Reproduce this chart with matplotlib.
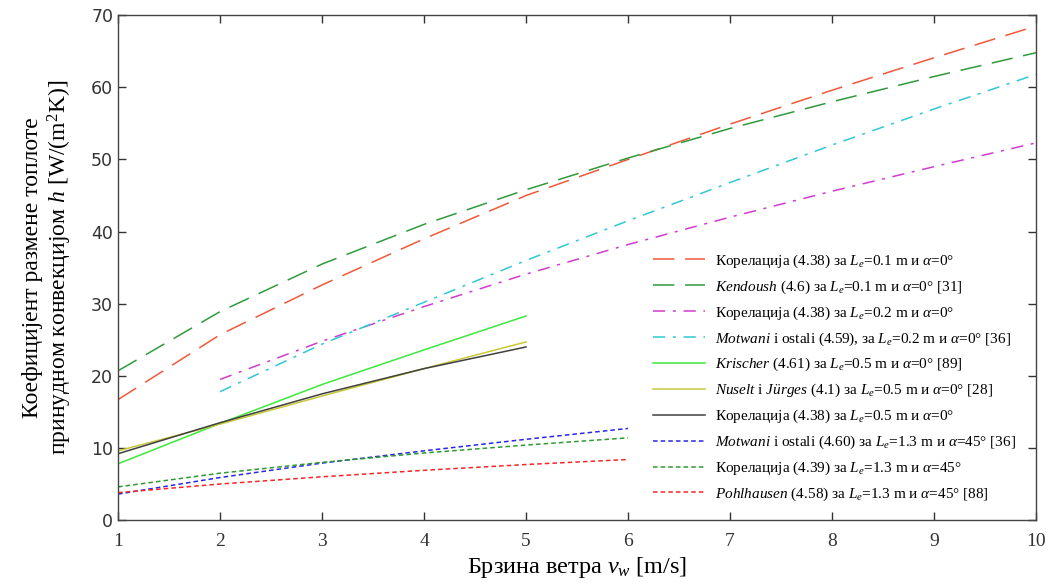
import matplotlib
matplotlib.use("Agg")
import matplotlib.pyplot as plt
import numpy as np

plt.rcParams['font.family'] = ['Liberation Serif', 'DejaVu Serif']
plt.rcParams['mathtext.fontset'] = 'custom'
plt.rcParams['mathtext.rm'] = 'Liberation Serif'
plt.rcParams['mathtext.it'] = 'Liberation Serif:italic'
plt.rcParams['mathtext.bf'] = 'Liberation Serif:bold'

# ---- data ----
x_full = [1, 2, 3, 4, 5, 6, 7, 8, 9, 10]
x_from2 = [2, 3, 4, 5, 6, 7, 8, 9, 10]
x_to5 = [1, 2, 3, 4, 5]
x_to6 = [1, 2, 3, 4, 5, 6]

kor_01 = [16.7, 25.7, 32.6, 39.0, 45.0, 50.0, 54.9, 59.6, 64.1, 68.5]
kendoush = [20.7, 28.9, 35.5, 41.0, 45.8, 50.2, 54.3, 58.0, 61.5, 64.8]
kor_02 = [19.5, 24.8, 29.6, 34.1, 38.2, 42.0, 45.6, 49.0, 52.3]
motwani_459 = [17.8, 24.4, 30.2, 36.0, 41.5, 46.8, 52.0, 57.0, 61.8]
krischer = [7.8, 13.4, 18.8, 23.6, 28.3]
nuselt = [9.6, 13.3, 17.2, 21.0, 24.7]
kor_05 = [9.2, 13.5, 17.5, 21.0, 24.0]
motwani_460 = [3.6, 5.9, 7.9, 9.6, 11.2, 12.7]
kor_439 = [4.6, 6.5, 8.0, 9.3, 10.4, 11.4]
pohlhausen = [3.8, 5.0, 6.0, 6.9, 7.7, 8.4]

labels = [
    r'Корелација (4.38) за $\mathit{L_e}$=0.1 m и $\mathit{\alpha}$=0°',
    r'$\mathit{Kendoush}$ (4.6) за $\mathit{L_e}$=0.1 m и $\mathit{\alpha}$=0° [31]',
    r'Корелација (4.38) за $\mathit{L_e}$=0.2 m и $\mathit{\alpha}$=0°',
    r'$\mathit{Motwani}$ i ostali (4.59), за $\mathit{L_e}$=0.2 m и $\mathit{\alpha}$=0° [36]',
    r'$\mathit{Krischer}$ (4.61) за $\mathit{L_e}$=0.5 m и $\mathit{\alpha}$=0° [89]',
    r'$\mathit{Nuselt}$ i $\mathit{Jürges}$ (4.1) за $\mathit{L_e}$=0.5 m и $\mathit{\alpha}$=0° [28]',
    r'Корелација (4.38) за $\mathit{L_e}$=0.5 m и $\mathit{\alpha}$=0°',
    r'$\mathit{Motwani}$ i ostali (4.60) за $\mathit{L_e}$=1.3 m и $\mathit{\alpha}$=45° [36]',
    r'Корелација (4.39) за $\mathit{L_e}$=1.3 m и $\mathit{\alpha}$=45°',
    r'$\mathit{Pohlhausen}$ (4.58) за $\mathit{L_e}$=1.3 m и $\mathit{\alpha}$=45° [88]',
]

fig = plt.figure(figsize=(10.54, 5.85), dpi=100)
ax = fig.add_axes([0.112, 0.111, 0.871, 0.863])

long_dash = (0, (14, 7))
dash_dot = (0, (8, 5, 2, 5))
short = (0, (3, 2))
lw = 1.1

ax.plot(x_full, kor_01, color='#f0583a', ls=long_dash, lw=lw, label=labels[0])
ax.plot(x_full, kendoush, color='#2f9a3c', ls=long_dash, lw=lw, label=labels[1])
ax.plot(x_from2, kor_02, color='#d03cd0', ls=dash_dot, lw=lw, label=labels[2])
ax.plot(x_from2, motwani_459, color='#30c8d2', ls=dash_dot, lw=lw, label=labels[3])
ax.plot(x_to5, krischer, color='#3ce83c', ls='-', lw=lw, label=labels[4])
ax.plot(x_to5, nuselt, color='#c8c83a', ls='-', lw=lw, label=labels[5])
ax.plot(x_to5, kor_05, color='#404040', ls='-', lw=lw, label=labels[6])
ax.plot(x_to6, motwani_460, color='#2828e0', ls=short, lw=lw, label=labels[7])
ax.plot(x_to6, kor_439, color='#2f9a2f', ls=short, lw=lw, label=labels[8])
ax.plot(x_to6, pohlhausen, color='#f02828', ls=short, lw=lw, label=labels[9])

ax.set_xlim(1, 10)
ax.set_ylim(0, 70)
ax.set_xticks(range(1, 11))
ax.set_yticks(range(0, 71, 10))
ax.tick_params(direction='in', top=True, right=True, length=6, width=1, colors='#333333')
ax.tick_params(axis='x', pad=9)
for lab in ax.get_yticklabels():
    lab.set_fontfamily('DejaVu Sans')
    lab.set_fontsize(12.5)
    lab.set_color('#333333')
for lab in ax.get_xticklabels():
    lab.set_fontsize(14)
for s in ax.spines.values():
    s.set_color('#444444')
    s.set_linewidth(1.0)

ax.set_xlabel(r'Брзина ветра $\mathit{v_w}$ [m/s]', fontsize=17.5, labelpad=4)
ax.set_ylabel('Коефицијент размене топлоте\n' + r'принудном конвекцијом $\mathit{h}$ [W/(m$^2$K)]',
              fontsize=17, labelpad=12, linespacing=1.15)

ax.legend(loc='upper left', bbox_to_anchor=(0.574, 0.545), frameon=False, fontsize=11,
          handlelength=3.4, handletextpad=0.7, labelspacing=0.56, borderpad=0)

fig.savefig('out.png', dpi=100)
